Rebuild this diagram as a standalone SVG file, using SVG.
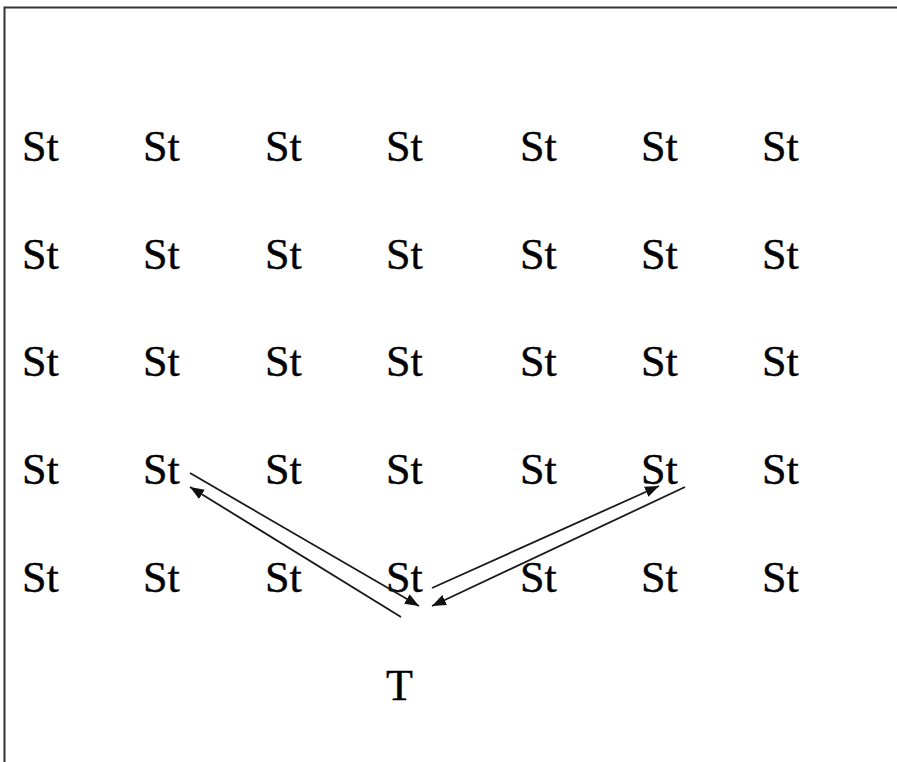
<svg xmlns="http://www.w3.org/2000/svg" width="897" height="762" viewBox="0 0 897 762">
<style>
.t{font-family:"Liberation Serif","Times New Roman",serif;font-size:44px;fill:#000;stroke:#000;stroke-width:0.4}
.c{stroke:#1a1a1a;stroke-width:1.8;fill:none}
.b{stroke:#333;stroke-width:2;fill:none}
</style>
<defs>
<marker id="ah" markerUnits="userSpaceOnUse" markerWidth="15" markerHeight="11" refX="14" refY="5.5" orient="auto">
<path d="M0,0 L14,5.5 L0,11 z" fill="#111"/>
</marker>
</defs>
<rect width="897" height="762" fill="#fff"/>
<path class="b" d="M4.5,770 L4.5,7.5 L905,7.5"/>
<g id="grid">
<g id="r1">
<text class="t" x="22" y="161">St</text><text class="t" x="143" y="161">St</text><text class="t" x="265" y="161">St</text><text class="t" x="386" y="161">St</text><text class="t" x="520" y="161">St</text><text class="t" x="641" y="161">St</text><text class="t" x="762" y="161">St</text>
</g>
<g id="r2">
<text class="t" x="22" y="269">St</text><text class="t" x="143" y="269">St</text><text class="t" x="265" y="269">St</text><text class="t" x="386" y="269">St</text><text class="t" x="520" y="269">St</text><text class="t" x="641" y="269">St</text><text class="t" x="762" y="269">St</text>
</g>
<g id="r3">
<text class="t" x="22" y="376">St</text><text class="t" x="143" y="376">St</text><text class="t" x="265" y="376">St</text><text class="t" x="386" y="376">St</text><text class="t" x="520" y="376">St</text><text class="t" x="641" y="376">St</text><text class="t" x="762" y="376">St</text>
</g>
<g id="r4">
<text class="t" x="22" y="484">St</text><text id="s42" class="t" x="143" y="484">St</text><text class="t" x="265" y="484">St</text><text class="t" x="386" y="484">St</text><text class="t" x="520" y="484">St</text><text id="s46" class="t" x="641" y="484">St</text><text class="t" x="762" y="484">St</text>
</g>
<g id="r5">
<text class="t" x="22" y="592">St</text><text class="t" x="143" y="592">St</text><text class="t" x="265" y="592">St</text><text id="s54" class="t" x="386" y="592">St</text><text class="t" x="520" y="592">St</text><text class="t" x="641" y="592">St</text><text class="t" x="762" y="592">St</text>
</g>
</g>
<g id="T"><text class="t" x="386" y="700">T</text></g>
<g id="connectors">
<line class="c" x1="190" y1="473" x2="419" y2="606" marker-end="url(#ah)"/>
<line class="c" x1="401" y1="617" x2="190" y2="487" marker-end="url(#ah)"/>
<line class="c" x1="432" y1="588" x2="659" y2="486" marker-end="url(#ah)"/>
<line class="c" x1="685" y1="487" x2="432" y2="606" marker-end="url(#ah)"/>
</g>
</svg>
